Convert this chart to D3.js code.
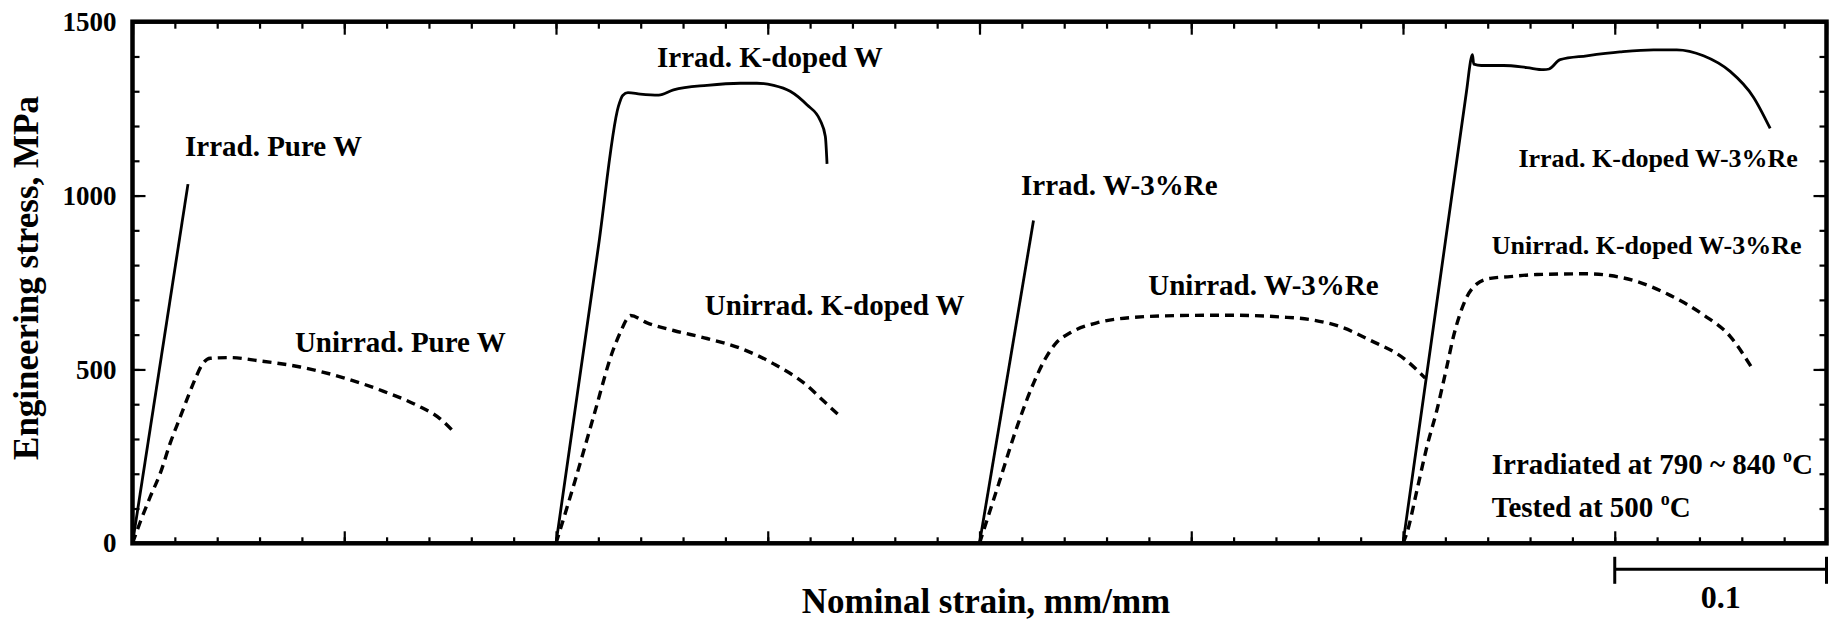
<!DOCTYPE html>
<html>
<head>
<meta charset="utf-8">
<script src="https://cdn.jsdelivr.net/npm/d3@7"></script>
<style>
  html, body { margin: 0; padding: 0; background: #fff; }
  svg { display: block; }
  text { font-family: "Liberation Serif", "Times New Roman", serif; font-weight: bold; fill: #000; }
</style>
</head>
<body>
<svg id="chart" width="1831" height="621"></svg>
<script>
// ---------- data (strain in mm/mm relative to each specimen's start, stress in MPa) ----------
const specimenOffsets = [0, 0.2, 0.4, 0.6];

const irradPureW = [[0, 0], [0.0262, 1033]];
const unirradPureW = [[0, 0], [0.0037, 62], [0.0084, 134], [0.0131, 201], [0.0178, 288], [0.0226, 364],
  [0.0265, 426], [0.0297, 474], [0.0328, 513], [0.0367, 532], [0.0462, 534], [0.0595, 525],
  [0.0792, 507], [0.0997, 476], [0.1186, 437], [0.1343, 397], [0.1453, 358], [0.1524, 316]];

const irradKdopedW = [[0, 0], [0.01, 426], [0.02, 852], [0.0295, 1257], [0.0315, 1288], [0.034, 1296],
  [0.0398, 1292], [0.0485, 1289], [0.0555, 1304], [0.0713, 1317], [0.087, 1323], [0.0949, 1323],
  [0.1028, 1317], [0.1106, 1300], [0.1185, 1261], [0.1248, 1216], [0.1272, 1170], [0.128, 1091]];
const unirradKdopedW = [[0, 0], [0.009, 180], [0.018, 370], [0.0268, 553], [0.031, 615], [0.0335, 645],
  [0.0352, 655], [0.043, 634], [0.0555, 612], [0.0713, 589], [0.087, 561], [0.1028, 516],
  [0.1185, 454], [0.1264, 409], [0.1335, 369]];

const irradW3Re = [[0, 0], [0.0255, 928]];
const unirradW3Re = [[0, 0], [0.009, 170], [0.018, 340], [0.0255, 460], [0.031, 530], [0.036, 575],
  [0.043, 606], [0.0554, 634], [0.0712, 649], [0.0948, 655], [0.1184, 656], [0.142, 651],
  [0.1577, 642], [0.1703, 623], [0.1845, 584], [0.2003, 532], [0.2105, 475]];

const irradKdopedW3Re = [[0, 0], [0.01, 433], [0.02, 867], [0.03, 1300], [0.0322, 1395], [0.0328, 1405],
  [0.0334, 1378], [0.037, 1374], [0.0475, 1374], [0.0585, 1368], [0.0664, 1362], [0.069, 1364],
  [0.0742, 1391], [0.0868, 1402], [0.1025, 1413], [0.1183, 1419], [0.1293, 1419], [0.1419, 1402],
  [0.1545, 1357], [0.1655, 1283], [0.1734, 1193]];
const unirradKdopedW3Re = [[0, 0], [0.0018, 29], [0.0066, 153], [0.0113, 278], [0.016, 383],
  [0.0207, 508], [0.0238, 594], [0.027, 661], [0.0302, 709], [0.0349, 746], [0.0412, 762],
  [0.0506, 767], [0.0632, 773], [0.0868, 775], [0.0978, 770], [0.1104, 753], [0.1262, 713],
  [0.1419, 657], [0.1545, 595], [0.1647, 505]];

const irradiatedCurves = [irradPureW, irradKdopedW, irradW3Re, irradKdopedW3Re];
const unirradiatedCurves = [unirradPureW, unirradKdopedW, unirradW3Re, unirradKdopedW3Re];

const yTickLabels = [0, 500, 1000, 1500];
const scaleBarStrain = 0.1;

// annotation texts, anchored in data coordinates (absolute strain, stress)
const curveLabels = [
  { text: "Irrad. Pure W", at: [0.0248, 1114], big: true },
  { text: "Unirrad. Pure W", at: [0.0767, 550], big: true },
  { text: "Irrad. K-doped W", at: [0.2477, 1369], big: true },
  { text: "Unirrad. K-doped W", at: [0.2703, 657], big: true },
  { text: "Irrad. W-3%Re", at: [0.4196, 1003], big: true },
  { text: "Unirrad. W-3%Re", at: [0.4797, 713], big: true },
  { text: "Irrad. K-doped W-3%Re", at: [0.6545, 1082], big: false },
  { text: "Unirrad. K-doped W-3%Re", at: [0.6419, 832], big: false }
];
const conditionLines = [
  { pre: "Irradiated at 790 ~ 840 ", at: [0.6419, 200] },
  { pre: "Tested at 500 ", at: [0.6419, 76] }
];

// ---------- layout ----------
const svg = d3.select("#chart");
svg.append("rect").attr("width", 1831).attr("height", 621).attr("fill", "#fff");

const plotLeft = 132.5, plotRight = 1826.5, plotTop = 21.7, plotBottom = 543.3;
const x = d3.scaleLinear().domain([0, 0.8]).range([plotLeft, plotRight]);
const y = d3.scaleLinear().domain([0, 1500]).range([plotBottom, plotTop]);

const minorX = d3.range(0, 0.8001, 0.02);
const majorX = d3.range(0, 0.8001, 0.1);
const minorY = d3.range(0, 1501, 100);
const majorY = d3.range(0, 1501, 500);

function styleAxis(g) {
  g.select(".domain").remove();
  g.selectAll(".tick line").attr("stroke", "#000").attr("stroke-width", 2.2);
}

// bottom (ticks inward)
svg.append("g").attr("transform", `translate(0,${plotBottom})`)
  .call(d3.axisBottom(x).tickValues(minorX).tickSize(-6).tickFormat("")).call(styleAxis);
svg.append("g").attr("transform", `translate(0,${plotBottom})`)
  .call(d3.axisBottom(x).tickValues(majorX).tickSize(-12).tickFormat("")).call(styleAxis);
// top
svg.append("g").attr("transform", `translate(0,${plotTop})`)
  .call(d3.axisTop(x).tickValues(minorX).tickSize(-7).tickFormat("")).call(styleAxis);
svg.append("g").attr("transform", `translate(0,${plotTop})`)
  .call(d3.axisTop(x).tickValues(majorX).tickSize(-13).tickFormat("")).call(styleAxis);
// left
svg.append("g").attr("transform", `translate(${plotLeft},0)`)
  .call(d3.axisLeft(y).tickValues(minorY).tickSize(-7).tickFormat("")).call(styleAxis);
const yAxisMajor = svg.append("g").attr("transform", `translate(${plotLeft},0)`)
  .call(d3.axisLeft(y).tickValues(yTickLabels).tickSize(-13).tickPadding(16).tickFormat(d3.format("d")))
  .call(styleAxis);
yAxisMajor.selectAll("text").attr("font-size", 27).attr("font-family", "Liberation Serif, Times New Roman, serif")
  .attr("font-weight", "bold").attr("fill", "#000");
// right
svg.append("g").attr("transform", `translate(${plotRight},0)`)
  .call(d3.axisRight(y).tickValues(minorY).tickSize(-7).tickFormat("")).call(styleAxis);
svg.append("g").attr("transform", `translate(${plotRight},0)`)
  .call(d3.axisRight(y).tickValues(majorY).tickSize(-13).tickFormat("")).call(styleAxis);

// frame
svg.append("rect").attr("x", plotLeft).attr("y", plotTop).attr("width", plotRight - plotLeft)
  .attr("height", plotBottom - plotTop)
  .attr("fill", "none").attr("stroke", "#000").attr("stroke-width", 4.5);

// ---------- curves ----------
const line = d3.line().curve(d3.curveMonotoneX);
function shifted(curve, off) { return curve.map(d => [x(d[0] + off), y(d[1])]); }

unirradiatedCurves.forEach((c, i) => {
  svg.append("path").attr("d", line(shifted(c, specimenOffsets[i])))
    .attr("fill", "none").attr("stroke", "#000").attr("stroke-width", 3.4)
    .attr("stroke-dasharray", "9,6");
});
irradiatedCurves.forEach((c, i) => {
  svg.append("path").attr("d", line(shifted(c, specimenOffsets[i])))
    .attr("fill", "none").attr("stroke", "#000").attr("stroke-width", 2.8)
    .attr("stroke-linejoin", "round");
});

// ---------- labels ----------
curveLabels.forEach(l => {
  svg.append("text").attr("x", x(l.at[0])).attr("y", y(l.at[1]))
    .attr("font-size", l.big ? 29 : 26).text(l.text);
});
conditionLines.forEach(l => {
  const t = svg.append("text").attr("x", x(l.at[0])).attr("y", y(l.at[1])).attr("font-size", 29);
  t.append("tspan").text(l.pre);
  t.append("tspan").attr("font-size", 18).attr("dy", -12).text("o");
  t.append("tspan").attr("dy", 12).text("C");
});

// axis titles
svg.append("text").attr("x", 986).attr("y", 613).attr("text-anchor", "middle")
  .attr("font-size", 35).text("Nominal strain, mm/mm");
svg.append("text").attr("transform", `translate(38,278) rotate(-90)`)
  .attr("text-anchor", "middle").attr("font-size", 35).text("Engineering stress, MPa");

// scale bar
const sb0 = x(0.8 - scaleBarStrain), sb1 = x(0.8), sbY = 569.3;
svg.append("line").attr("x1", sb0).attr("x2", sb1).attr("y1", sbY).attr("y2", sbY)
  .attr("stroke", "#000").attr("stroke-width", 3);
[sb0, sb1].forEach(px => svg.append("line").attr("x1", px).attr("x2", px)
  .attr("y1", sbY - 12.5).attr("y2", sbY + 14.5).attr("stroke", "#000").attr("stroke-width", 3));
svg.append("text").attr("x", (sb0 + sb1) / 2).attr("y", 608).attr("text-anchor", "middle")
  .attr("font-size", 32).text(String(scaleBarStrain));
</script>
</body>
</html>
